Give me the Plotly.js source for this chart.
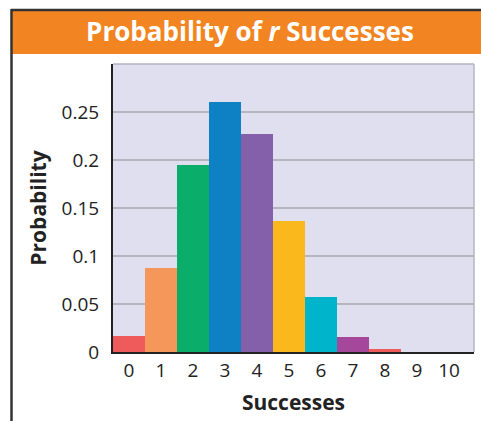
<!DOCTYPE html>
<html><head><meta charset="utf-8">
<script src="https://cdn.plot.ly/plotly-3.0.1.min.js"></script>
<style>html,body{margin:0;padding:0;background:#fff}#c{width:481px;height:421px}</style>
</head><body><div id="c"></div>
<script>
const successes = [0,1,2,3,4,5,6,7,8,9,10];
const probabilities = [0.017,0.087,0.195,0.260,0.227,0.136,0.057,0.016,0.003,0.0003,0];
const barColors = ['#ef5a5a','#f5965a','#0aad6a','#0e80c4','#8560aa','#fbb81c','#00b4cc','#a5479a','#ef5a5a','#ef5a5a','#ef5a5a'];
const yTicks = [0,0.05,0.1,0.15,0.2,0.25];
const yTickText = ['0','0.05','0.1','0.15','0.2','0.25'];

const L=113, R=474, T=64, B=352;
const px = x => (x-L)/(R-L);
const py = y => (B-y)/(B-T);
const font = 'Open Sans, Noto Sans, sans-serif';

Plotly.newPlot('c', [{
  type:'bar', x:successes, y:probabilities,
  marker:{color:barColors, line:{width:0}},
  hoverinfo:'skip'
}], {
  width:481, height:421,
  margin:{l:L, r:481-R, t:T, b:421-B, pad:0},
  paper_bgcolor:'#fff', plot_bgcolor:'#e0dff0',
  bargap:0, showlegend:false,
  title:{text:'<b>Probability of <i>r</i> Successes</b>', font:{family:font, size:26, color:'#fff'},
    xref:'container', yref:'container', x:250/481, xanchor:'center', y:1-32/421, yanchor:'middle'},
  xaxis:{range:[-0.5,10.78], tickvals:successes, ticktext:successes.map(String),
    showgrid:false, zeroline:false, showline:true, linecolor:'#222', linewidth:2,
    ticks:'', tickfont:{family:font, size:19, color:'#222'}, ticklabelstandoff:0,
    title:{text:'<b>Successes</b>', font:{family:font, size:21, color:'#222'}, standoff:14}},
  yaxis:{range:[0,0.3], tickvals:yTicks, ticktext:yTickText,
    showgrid:true, gridcolor:'#b5b5c0', gridwidth:1.5, zeroline:false,
    showline:true, linecolor:'#222', linewidth:2,
    ticks:'', tickfont:{family:font, size:19, color:'#222'}, ticklabelstandoff:8,
    title:{text:'<b>Probability</b>', font:{family:font, size:21, color:'#222'}, standoff:9}},
  shapes:[
    {type:'rect', xref:'paper', yref:'paper', x0:px(12), x1:px(482), y0:py(54), y1:py(10.5), fillcolor:'#f28422', line:{width:0}, layer:'below'},
    {type:'line', xref:'paper', yref:'paper', x0:px(11), x1:px(482), y0:py(10), y1:py(10), line:{color:'#333', width:2.5}},
    {type:'line', xref:'paper', yref:'paper', x0:px(11.5), x1:px(11.5), y0:py(9), y1:py(422), line:{color:'#333', width:2.5}},
    {type:'line', xref:'paper', yref:'paper', x0:0, x1:1, y0:1, y1:1, line:{color:'#b5b5c0', width:1.5}},
    {type:'line', xref:'paper', yref:'paper', x0:1, x1:1, y0:0, y1:1, line:{color:'#b5b5c0', width:1.5}}
  ]
}, {staticPlot:true});
</script></body></html>
